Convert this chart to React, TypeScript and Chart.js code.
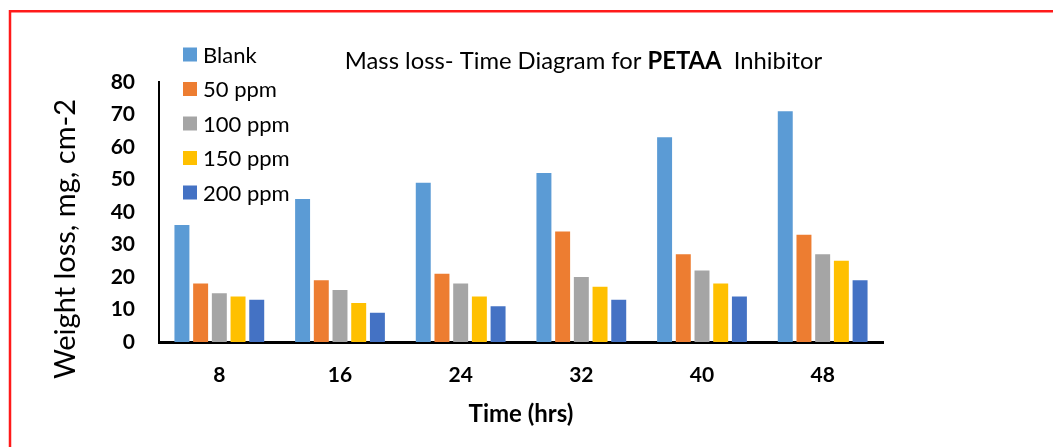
import React, { useEffect, useRef } from "react";
import { Chart, registerables } from "chart.js";

Chart.register(...registerables);

const categories = ["8", "16", "24", "32", "40", "48"];
const seriesNames = ["Blank", "50 ppm", "100 ppm", "150 ppm", "200 ppm"];
const blank = [36, 44, 49, 52, 63, 71];
const ppm50 = [18, 19, 21, 34, 27, 33];
const ppm100 = [15, 16, 18, 20, 22, 27];
const ppm150 = [14, 12, 14, 17, 18, 25];
const ppm200 = [13, 9, 11, 13, 14, 19];
const seriesColors = ["#5B9BD5", "#ED7D31", "#A5A5A5", "#FFC000", "#4472C4"];
const yTicks = [0, 10, 20, 30, 40, 50, 60, 70, 80];

const titleParts = [
  { text: "Mass loss- Time Diagram for ", bold: false },
  { text: "PETAA", bold: true },
  { text: "  Inhibitor", bold: false },
];
const yTitle = "Weight loss, mg, cm-2";
const xTitle = "Time (hrs)";

const FONT = "Lato, 'Open Sans', sans-serif";

const decorPlugin = {
  id: "decor",
  beforeDraw(chart: any) {
    const ctx = chart.ctx as CanvasRenderingContext2D;
    ctx.save();
    ctx.fillStyle = "#ffffff";
    ctx.fillRect(0, 0, chart.width, chart.height);
    ctx.strokeStyle = "#ff1a1a";
    ctx.lineWidth = 2.5;
    ctx.beginPath();
    ctx.moveTo(10, chart.height);
    ctx.lineTo(10, 11.3);
    ctx.lineTo(chart.width, 11.3);
    ctx.stroke();
    ctx.restore();
  },
  afterDraw(chart: any) {
    const ctx = chart.ctx as CanvasRenderingContext2D;
    ctx.save();
    // Title
    const tSize = 23.8;
    ctx.textBaseline = "middle";
    ctx.fillStyle = "#000000";
    let total = 0;
    const widths = titleParts.map((p) => {
      ctx.font = `${p.bold ? "bold " : ""}${tSize}px ${FONT}`;
      const w = ctx.measureText(p.text).width;
      total += w;
      return w;
    });
    let x = 583.5 - total / 2;
    ctx.textAlign = "left";
    titleParts.forEach((p, i) => {
      ctx.font = `${p.bold ? "bold " : ""}${tSize}px ${FONT}`;
      ctx.fillText(p.text, x, 61);
      x += widths[i];
    });
    // Y axis title
    ctx.save();
    ctx.translate(66, 239);
    ctx.rotate(-Math.PI / 2);
    ctx.font = `29px ${FONT}`;
    ctx.textAlign = "center";
    ctx.textBaseline = "middle";
    ctx.fillText(yTitle, 0, 0);
    ctx.restore();
    // Legend
    const ds = chart.data.datasets;
    ctx.font = `22px ${FONT}`;
    ctx.textAlign = "left";
    ctx.textBaseline = "middle";
    ds.forEach((d: any, i: number) => {
      const cy = 54.5 + i * 34.5;
      ctx.fillStyle = d.backgroundColor;
      ctx.fillRect(183, cy - 7, 14, 14);
      ctx.fillStyle = "#000000";
      ctx.fillText(d.label, 203, cy + 1);
    });
    ctx.restore();
  },
};

export default function App() {
  const ref = useRef<HTMLCanvasElement | null>(null);
  useEffect(() => {
    if (!ref.current) return;
    const values = [blank, ppm50, ppm100, ppm150, ppm200];
    const chart = new Chart(ref.current, {
      type: "bar",
      data: {
        labels: categories,
        datasets: seriesNames.map((name, i) => ({
          label: name,
          data: values[i],
          backgroundColor: seriesColors[i],
          borderWidth: 0,
          categoryPercentage: 0.775,
          barPercentage: 0.8,
        })),
      },
      options: {
        responsive: false,
        animation: false,
        layout: { padding: { left: 0, right: 170, top: 82, bottom: 0 } },
        plugins: {
          legend: { display: false },
          title: { display: false },
          tooltip: { enabled: false },
        },
        scales: {
          x: {
            grid: { display: false, drawTicks: false },
            border: { display: true, color: "#000000", width: 3 },
            ticks: {
              color: "#000000",
              padding: 21,
              font: { family: FONT, size: 21, weight: "bold" },
            },
            title: {
              display: true,
              text: xTitle,
              color: "#000000",
              font: { family: FONT, size: 24, weight: "bold" },
              padding: { top: 0, bottom: 18 },
            },
            afterFit(scale: any) {
              scale.height = 105;
            },
          },
          y: {
            min: 0,
            max: 80,
            grid: { display: false, drawTicks: false },
            border: { display: true, color: "#000000", width: 2 },
            afterBuildTicks(scale: any) {
              scale.ticks = yTicks.map((v) => ({ value: v }));
            },
            ticks: {
              color: "#000000",
              padding: 24,
              font: { family: FONT, size: 21, weight: "bold" },
            },
            afterFit(scale: any) {
              scale.width = 159;
            },
          },
        },
      },
      plugins: [decorPlugin],
    });
    return () => chart.destroy();
  }, []);
  return (
    <div style={{ position: "absolute", left: 0, top: 0, width: 1053, height: 447 }}>
      <canvas ref={ref} width={1053} height={447} style={{ display: "block" }} />
    </div>
  );
}
